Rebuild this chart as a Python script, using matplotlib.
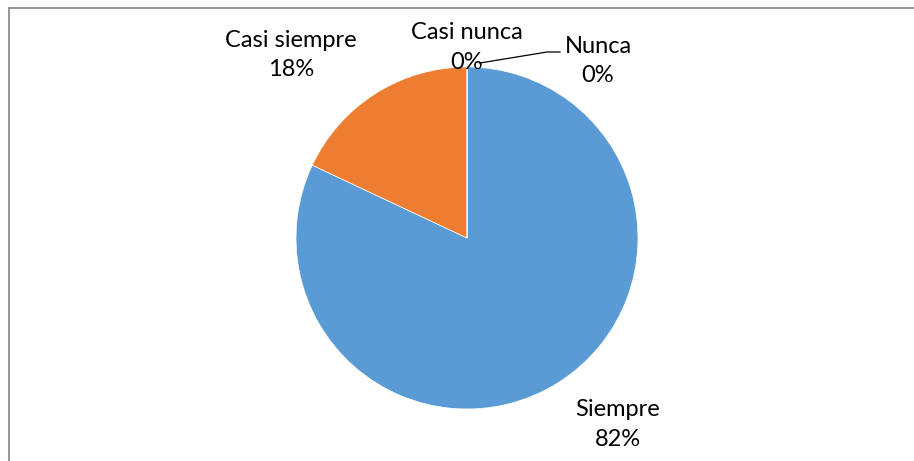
import matplotlib
matplotlib.use("Agg")
import matplotlib.pyplot as plt
from matplotlib.lines import Line2D

# datos del gráfico
categorias = ["Siempre", "Casi siempre", "Casi nunca", "Nunca"]
porcentajes = [82, 18, 0, 0]
colores = ["#5B9BD5", "#ED7D31", "#A5A5A5", "#FFC000"]

W, H = 914, 461
cx, cy, r = 467, 238, 171  # centro y radio en pixeles

fig = plt.figure(figsize=(W / 100, H / 100), dpi=100)
ax = fig.add_axes([0, 0, 1, 1])
ax.pie(porcentajes, colors=colores, startangle=90, counterclock=False,
       radius=1, wedgeprops=dict(linewidth=0.5, edgecolor="white"))
ax.set_xlim(-cx / r, (W - cx) / r)
ax.set_ylim(-(H - cy) / r, cy / r)
ax.set_aspect("equal")
ax.axis("off")

plt.rcParams["font.family"] = ["Lato", "DejaVu Sans"]
fs = 17

# posiciones de etiquetas (como en Excel)
pos = {
    "Siempre": (0.883, -1.09),
    "Casi siempre": (-1.03, 1.07),
    "Casi nunca": (0.0, 1.115),
    "Nunca": (0.766, 1.035),
}
for cat, p in zip(categorias, porcentajes):
    x, y = pos[cat]
    ax.text(x, y, f"{cat}\n{p}%", ha="center", va="center", fontsize=fs,
            linespacing=1.5, color="black")

# linea guia de "Nunca"
ax.plot([(480 - cx) / r, (547 - cx) / r, (560 - cx) / r],
        [(cy - 63) / r, (cy - 52) / r, (cy - 52) / r], color="black", lw=0.9)

# borde del area del grafico
fig.add_artist(Line2D([8.5 / W, 1], [1 - 8.5 / H, 1 - 8.5 / H],
                      transform=fig.transFigure, color="#8c8c8c", lw=1.3))
fig.add_artist(Line2D([8.5 / W, 8.5 / W], [0, 1 - 8.5 / H],
                      transform=fig.transFigure, color="#8c8c8c", lw=1.3))

fig.savefig("out.png", dpi=100)
